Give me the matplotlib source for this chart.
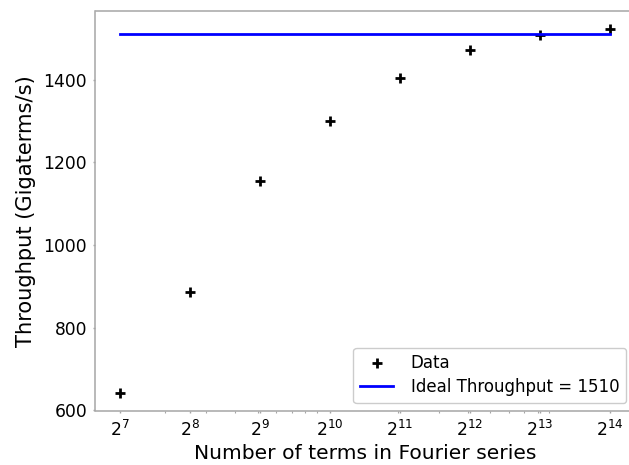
import matplotlib
matplotlib.use("Agg")
import matplotlib.pyplot as plt
from matplotlib.ticker import NullFormatter

n_terms = [2**7, 2**8, 2**9, 2**10, 2**11, 2**12, 2**13, 2**14]
exponents = [7, 8, 9, 10, 11, 12, 13, 14]
throughput = [642, 886, 1154, 1299, 1405, 1471, 1507, 1522]
ideal = 1510

fig = plt.figure(figsize=(6.29, 4.65), dpi=100)
ax = fig.add_axes([95.5/629, (465-411.2)/465, 539/629, (411.2-11)/465])

ax.plot(n_terms, throughput, linestyle='none', marker='+', color='black',
        markersize=7.5, markeredgewidth=2.0, label='Data')
ax.plot([n_terms[0], n_terms[-1]], [ideal, ideal], color='blue', linewidth=2.0,
        label='Ideal Throughput = %d' % ideal)

ax.set_xscale('log')
ax.set_xticks(n_terms, labels=[r'$2^{%d}$' % e for e in exponents])
ax.xaxis.set_minor_formatter(NullFormatter())
ax.set_yticks([600, 800, 1000, 1200, 1400])

for s in ax.spines.values():
    s.set_color('#a6a6a6')
    s.set_linewidth(1.1)
ax.tick_params(axis='both', which='major', colors='#a6a6a6', labelcolor='black',
               labelsize=12.3, length=1.6, width=1.0, pad=4.5)
ax.tick_params(axis='both', which='minor', colors='#a6a6a6', length=1.2, width=0.8)

ax.set_xlabel('Number of terms in Fourier series', fontsize=14.6, labelpad=3)
ax.set_ylabel('Throughput (Gigaterms/s)', fontsize=15.1, labelpad=5)

ax.legend(loc='lower right', fontsize=12, framealpha=1, edgecolor='#cccccc',
          handletextpad=1.05, labelspacing=0.35)

fig.savefig('out.png', dpi=100)
